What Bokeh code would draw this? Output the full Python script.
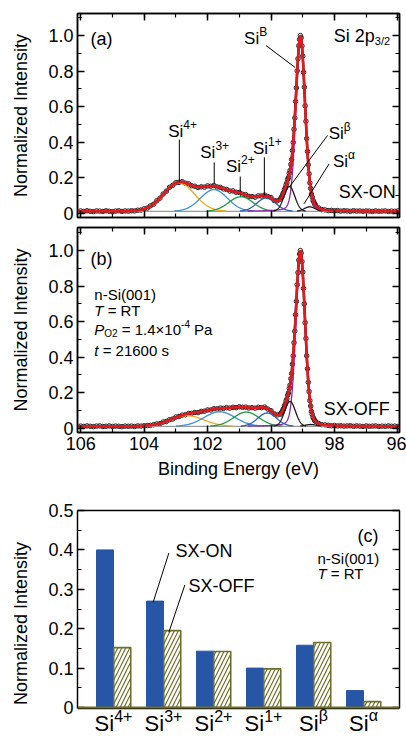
import numpy as np
from bokeh.plotting import figure
from bokeh.models import Range1d, LinearAxis, SingleIntervalTicker, Label, Span
from bokeh.layouts import column
from bokeh.embed import file_html
from bokeh.resources import INLINE

FONT = "Liberation Sans"
NB = "\u00a0"
LIFT = 6  # px; brings the alphabetic baseline of labels onto the requested y

# ---------------- Si 2p3/2 spectra ----------------
# binding energy of each measured point (eV)
energy_ev = [
    106.0, 105.9, 105.8, 105.7, 105.6, 105.5, 105.4, 105.3, 105.2, 105.1,
    105.0, 104.9, 104.8, 104.7, 104.6, 104.5, 104.4, 104.3, 104.2, 104.1,
    104.0, 103.9, 103.8, 103.7, 103.6, 103.5, 103.4, 103.3, 103.2, 103.1,
    103.0, 102.9, 102.8, 102.7, 102.6, 102.5, 102.4, 102.3, 102.2, 102.1,
    102.0, 101.9, 101.8, 101.7, 101.6, 101.5, 101.4, 101.3, 101.2, 101.1,
    101.0, 100.9, 100.8, 100.7, 100.6, 100.5, 100.4, 100.3, 100.2, 100.1,
    100.0, 99.9, 99.8, 99.7,
    99.675, 99.65, 99.625, 99.6, 99.575, 99.55, 99.525, 99.5, 99.475, 99.45,
    99.425, 99.4, 99.375, 99.35, 99.325, 99.3, 99.275, 99.25, 99.225, 99.2,
    99.175, 99.15, 99.125, 99.1, 99.075, 99.05, 99.025, 99.0, 98.975, 98.95,
    98.925, 98.9, 98.875, 98.85, 98.825, 98.8, 98.775, 98.75, 98.725, 98.7,
    98.675, 98.65, 98.625, 98.6,
    98.5, 98.4, 98.3, 98.2, 98.1, 98.0, 97.9, 97.8, 97.7, 97.6,
    97.5, 97.4, 97.3, 97.2, 97.1, 97.0, 96.9, 96.8, 96.7, 96.6,
    96.5, 96.4, 96.3, 96.2, 96.1, 96.0,
]

# normalized intensity, soft X-ray on
intensity_on = [
    0.012, 0.009, 0.013, 0.010, 0.008, 0.012, 0.011, 0.009, 0.013, 0.010,
    0.008, 0.011, 0.013, 0.009, 0.012, 0.011, 0.013, 0.012, 0.016, 0.017,
    0.024, 0.028, 0.041, 0.050, 0.069, 0.084, 0.107, 0.123, 0.145, 0.156,
    0.171, 0.173, 0.177, 0.168, 0.165, 0.154, 0.151, 0.144, 0.148, 0.146,
    0.153, 0.151, 0.155, 0.147, 0.145, 0.136, 0.133, 0.124, 0.125, 0.117,
    0.116, 0.106, 0.104, 0.094, 0.093, 0.089, 0.097, 0.096, 0.101, 0.093,
    0.087, 0.071, 0.069, 0.079,
    0.089, 0.095, 0.108, 0.117, 0.132, 0.142, 0.159, 0.170, 0.189, 0.200,
    0.224, 0.240, 0.274, 0.301, 0.352, 0.398, 0.472, 0.536, 0.629, 0.705,
    0.801, 0.869, 0.942, 0.978, 1.000, 0.988, 0.941, 0.884, 0.793, 0.709,
    0.604, 0.517, 0.420, 0.347, 0.272, 0.221, 0.170, 0.139, 0.107, 0.090,
    0.071, 0.062, 0.051, 0.046,
    0.029, 0.020, 0.018, 0.014, 0.015, 0.013, 0.014, 0.011, 0.013, 0.012,
    0.010, 0.013, 0.011, 0.012, 0.010, 0.012, 0.011, 0.009, 0.012, 0.010,
    0.011, 0.012, 0.009, 0.011, 0.010, 0.012,
]

# normalized intensity, soft X-ray off
intensity_off = [
    0.011, 0.009, 0.012, 0.010, 0.008, 0.011, 0.012, 0.009, 0.010, 0.012,
    0.009, 0.011, 0.010, 0.008, 0.011, 0.010, 0.011, 0.009, 0.012, 0.011,
    0.013, 0.014, 0.015, 0.019, 0.023, 0.025, 0.034, 0.037, 0.047, 0.051,
    0.062, 0.065, 0.073, 0.075, 0.082, 0.083, 0.088, 0.087, 0.094, 0.095,
    0.102, 0.102, 0.109, 0.108, 0.113, 0.111, 0.115, 0.112, 0.117, 0.115,
    0.120, 0.117, 0.118, 0.113, 0.115, 0.112, 0.117, 0.115, 0.118, 0.107,
    0.098, 0.080, 0.074, 0.078,
    0.086, 0.091, 0.103, 0.110, 0.125, 0.135, 0.153, 0.164, 0.185, 0.198,
    0.223, 0.242, 0.278, 0.307, 0.360, 0.407, 0.481, 0.546, 0.638, 0.714,
    0.808, 0.876, 0.946, 0.981, 1.000, 0.986, 0.938, 0.879, 0.787, 0.700,
    0.594, 0.505, 0.407, 0.334, 0.258, 0.206, 0.155, 0.124, 0.094, 0.077,
    0.060, 0.052, 0.042, 0.038,
    0.026, 0.019, 0.018, 0.015, 0.013, 0.014, 0.012, 0.013, 0.011, 0.012,
    0.013, 0.010, 0.012, 0.011, 0.009, 0.012, 0.010, 0.011, 0.012, 0.009,
    0.011, 0.010, 0.012, 0.010, 0.011, 0.009,
]

# fitted components: Si4+, Si3+, Si2+, Si1+, SiB, Si-beta, Si-alpha
background_level = 0.010
component_colors = ["#f2a71b", "#3d8fd6", "#1f9a3f", "#2a5db5", "#8b2aa6", "#1a1a1a", "#1a1a1a"]
lorentz_fraction = [0.0, 0.0, 0.0, 0.0, 0.15, 0.0, 0.0]
on_center = [102.90, 101.80, 100.95, 100.15, 99.07, 99.42, 98.78]
on_height = [0.160, 0.122, 0.082, 0.075, 0.965, 0.140, 0.025]
on_fwhm = [1.15, 1.00, 0.90, 0.70, 0.34, 0.40, 0.40]
off_center = [102.65, 101.62, 100.78, 100.12, 99.07, 99.40, 98.75]
off_height = [0.060, 0.082, 0.080, 0.075, 0.965, 0.140, 0.010]
off_fwhm = [1.25, 1.15, 0.95, 0.70, 0.34, 0.40, 0.40]

# ---------------- component intensities (bar chart) ----------------
species_sup = ["4+", "3+", "2+", "1+", "\u03b2", "\u03b1"]
bar_on = [0.400, 0.270, 0.143, 0.100, 0.158, 0.043]
bar_off = [0.152, 0.195, 0.142, 0.098, 0.165, 0.015]

BLUE = "#2856a6"
OLIVE = "#6f6f2c"
RED = "#e3191e"

# advance widths (em) for composing sub/superscript runs
GLYPH_W = {" ": 0.278, NB: 0.278, "(": 0.333, ")": 0.333, "+": 0.584, "-": 0.333,
           ".": 0.278, "/": 0.278, "=": 0.584, "\u00d7": 0.584, "a": 0.556, "b": 0.556,
           "c": 0.5, "n": 0.556, "p": 0.556, "s": 0.5, "t": 0.278, "i": 0.222,
           "B": 0.667, "F": 0.611, "N": 0.722, "O": 0.778, "P": 0.667, "R": 0.722,
           "S": 0.667, "T": 0.611, "X": 0.667, "\u03b2": 0.576, "\u03b1": 0.578}


def text_w(s, size):
    return sum(GLYPH_W.get(ch, 0.556) for ch in s) * size


def rich(p, x, y, parts, dx0=0.0):
    dx = dx0
    for txt, size, style, dy in parts:
        p.add_layout(Label(x=x, y=y, text=txt.replace(" ", NB), x_offset=dx, y_offset=dy + LIFT,
                           text_font=FONT, text_font_size=f"{size}px",
                           text_font_style=style, text_color="black",
                           text_align="left", text_baseline="alphabetic"))
        dx += text_w(txt, size)


def plain(p, x, y, txt, size=18, align="left"):
    p.add_layout(Label(x=x, y=y, text=txt, y_offset=LIFT, text_font=FONT,
                       text_font_size=f"{size}px", text_color="black",
                       text_align=align, text_baseline="alphabetic"))


def style_axis(ax, labels):
    ax.axis_line_color = "black"
    ax.axis_line_width = 1.5
    ax.major_tick_in = 7
    ax.major_tick_out = 0
    ax.minor_tick_in = 4
    ax.minor_tick_out = 0
    ax.major_tick_line_color = "black"
    ax.major_tick_line_width = 1.5
    ax.minor_tick_line_color = "black"
    ax.minor_tick_line_width = 1.2
    if labels:
        ax.major_label_text_font = FONT
        ax.major_label_text_font_size = "18px"
        ax.major_label_text_color = "black"
        ax.major_label_standoff = 4
        ax.axis_label_text_font = FONT
        ax.axis_label_text_font_size = "18px"
        ax.axis_label_text_font_style = "normal"
        ax.axis_label_text_color = "black"
    else:
        # mirror axis: ticks only
        ax.major_label_text_color = None
        ax.major_label_text_alpha = 0
        ax.major_label_text_font_size = "1px"
        ax.major_label_standoff = 0


def lineshape(e, c, h, w, eta):
    u = (e - c) / w
    return h * ((1 - eta) * np.exp(-4 * np.log(2) * u ** 2) + eta / (1 + 4 * u ** 2))


def spectrum_panel(intensity, centers, heights, widths, height, b_top, b_bottom, y_top, x_labels):
    p = figure(width=406, height=height, x_range=Range1d(106.1, 95.95),
               y_range=Range1d(-0.025, y_top), x_axis_type=None, y_axis_type=None,
               output_backend="svg", toolbar_location=None, min_border=0,
               min_border_left=76, min_border_right=7,
               min_border_top=b_top, min_border_bottom=b_bottom)
    p.outline_line_color = "black"
    p.outline_line_width = 1.5

    left = LinearAxis(ticker=SingleIntervalTicker(interval=0.2, num_minor_ticks=2),
                      axis_label="Normalized Intensity",
                      major_label_overrides={0: "0", 1: "1.0"})
    style_axis(left, True)
    left.axis_label_standoff = 14
    p.add_layout(left, "left")
    right = LinearAxis(ticker=SingleIntervalTicker(interval=0.2, num_minor_ticks=2))
    style_axis(right, False)
    p.add_layout(right, "right")
    top = LinearAxis(ticker=SingleIntervalTicker(interval=2, num_minor_ticks=2))
    style_axis(top, False)
    p.add_layout(top, "above")
    bottom = LinearAxis(ticker=SingleIntervalTicker(interval=2, num_minor_ticks=2))
    if x_labels:
        bottom.axis_label = "Binding Energy (eV)"
        style_axis(bottom, True)
        bottom.axis_label_standoff = 6
    else:
        style_axis(bottom, False)
    p.add_layout(bottom, "below")

    # measured points
    p.line(energy_ev, intensity, line_color="black", line_width=2.4)
    p.scatter(energy_ev, intensity, marker="circle", size=4.5, fill_color=None,
              line_color="#222222", line_width=1)

    # fit: background, components, envelope
    e_fit = np.linspace(95.95, 106.1, 1400)
    p.line(e_fit, np.full_like(e_fit, background_level), line_color="#9a9a9a", line_width=1.3)
    total = np.full_like(e_fit, background_level)
    for c, h, w, eta, col in zip(centers, heights, widths, lorentz_fraction, component_colors):
        comp = lineshape(e_fit, c, h, w, eta)
        total = total + comp
        shown = np.where(comp > 0.0015, background_level + comp, np.nan)
        p.line(e_fit, shown, line_color=col, line_width=1.3)
    p.line(e_fit, total, line_color=RED, line_width=2.6)
    return p


# ---------- panel (a) ----------
pa = spectrum_panel(intensity_on, on_center, on_height, on_fwhm, 225, 13, 8, 1.124, False)
plain(pa, 105.69, 0.946, "(a)")
rich(pa, 98.02, 0.966, [("Si 2p", 18, "normal", 0), ("3/2", 11, "normal", -5)])
for ex, ey, sup in [(100.85, 0.949, "B"), (103.24, 0.425, "4+"), (102.23, 0.307, "3+"),
                    (101.42, 0.228, "2+"), (100.57, 0.330, "1+"), (98.18, 0.414, "\u03b2"),
                    (98.05, 0.256, "\u03b1")]:
    rich(pa, ex, ey, [("Si", 17, "normal", 0), (sup, 12, "normal", 7)])
pa.segment(x0=[100.16, 102.89, 101.79, 100.97, 100.21, 98.22, 98.17],
           y0=[0.944, 0.414, 0.285, 0.206, 0.314, 0.437, 0.277],
           x1=[99.24, 102.89, 101.79, 100.97, 100.21, 99.43, 98.96],
           y1=[0.820, 0.177, 0.166, 0.117, 0.099, 0.145, 0.052],
           line_color="black", line_width=1)
plain(pa, 96.07, 0.0845, "SX-ON", align="right")

# ---------- panel (b) ----------
pb = spectrum_panel(intensity_off, off_center, off_height, off_fwhm, 260, 2, 53, 1.13, True)
plain(pb, 105.69, 0.921, "(b)")
plain(pb, 105.57, 0.716, "n-Si(001)", size=15)
rich(pb, 105.57, 0.626, [("T", 15, "italic", 0), (" = RT", 15, "normal", 0)])
rich(pb, 105.57, 0.519, [("P", 15, "italic", 0), ("O2", 10, "normal", -4),
                         (" = 1.4\u00d710", 15, "normal", 0), ("-4", 10, "normal", 6),
                         (" Pa", 15, "normal", 0)])
rich(pb, 105.57, 0.406, [("t", 15, "italic", 0), (" = 21600 s", 15, "normal", 0)])
plain(pb, 96.26, 0.073, "SX-OFF", align="right")

# ---------- panel (c) ----------
# the plotting area runs down to the category labels; the boxed region is 0..0.5
pc = figure(width=406, height=251, x_range=Range1d(-0.72, 5.72), y_range=Range1d(-0.0736, 0.5),
            x_axis_type=None, y_axis_type=None, output_backend="svg", toolbar_location=None,
            min_border=0, min_border_left=77, min_border_right=7, min_border_top=25,
            min_border_bottom=0)
pc.outline_line_color = None
cl = LinearAxis(ticker=SingleIntervalTicker(interval=0.1, num_minor_ticks=2),
                axis_label="Normalized Intensity", major_label_overrides={0: "0"},
                bounds=(-0.0025, 0.5))
style_axis(cl, True)
cl.axis_label_standoff = 14
pc.add_layout(cl, "left")
cr = LinearAxis(ticker=SingleIntervalTicker(interval=0.1, num_minor_ticks=2), bounds=(-0.0025, 0.5))
style_axis(cr, False)
pc.add_layout(cr, "right")
ctop = LinearAxis(ticker=SingleIntervalTicker(interval=1, num_minor_ticks=0))
style_axis(ctop, False)
ctop.major_tick_in = 0
ctop.minor_tick_in = 0
pc.add_layout(ctop, "above")
pc.add_layout(Span(location=-0.0025, dimension="width", line_color="black", line_width=1.5))

idx = list(range(len(bar_on)))
pc.vbar(x=[i - 0.17 for i in idx], top=bar_on, width=0.34, bottom=0,
        fill_color=BLUE, line_color=BLUE, line_width=1)
pc.vbar(x=[i + 0.175 for i in idx], top=bar_off, width=0.34, bottom=0,
        fill_color="white", line_color=OLIVE, line_width=1.6,
        hatch_pattern="/", hatch_color=OLIVE, hatch_scale=8, hatch_weight=1.2)
pc.add_layout(Span(location=0, dimension="width", line_color=OLIVE, line_width=2))

for i, sup in zip(idx, species_sup):
    total_w = text_w("Si", 22) + text_w(sup, 16)
    rich(pc, i, -0.056, [("Si", 22, "normal", 0), (sup, 16, "normal", 8)], dx0=-total_w / 2)

plain(pc, 4.88, 0.421, "(c)")
plain(pc, 4.08, 0.362, "n-Si(001)", size=15)
rich(pc, 4.08, 0.324, [("T", 15, "italic", 0), (" = RT", 15, "normal", 0)])
plain(pc, 1.24, 0.381, "SX-ON")
plain(pc, 1.50, 0.292, "SX-OFF")
pc.segment(x0=[1.107, 1.427], y0=[0.392, 0.311], x1=[0.793, 1.107], y1=[0.267, 0.191],
           line_color="black", line_width=1)

layout = column(pa, pb, pc)
open("out.html", "w").write(file_html(layout, INLINE))
